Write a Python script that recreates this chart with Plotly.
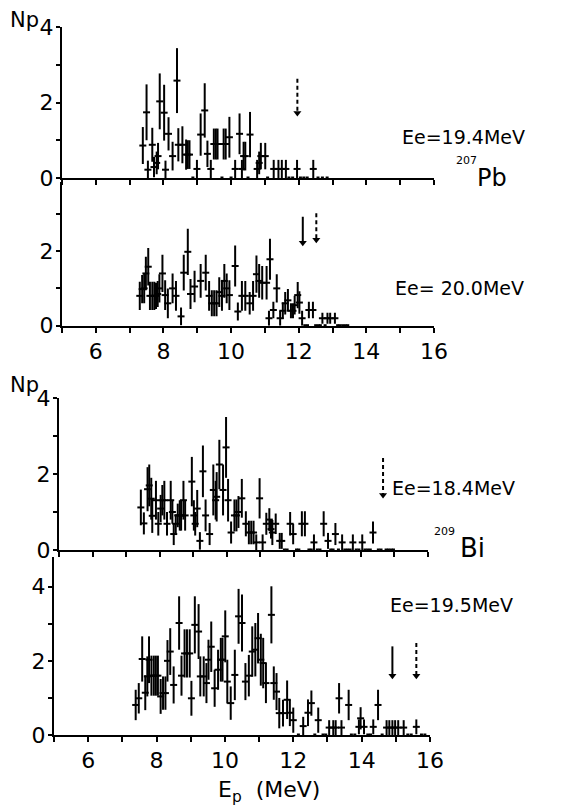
import plotly.graph_objects as go

# ---------------- data ----------------
# Panel 1: 207Pb, Ee = 19.4 MeV
pb194_x = [7.39, 7.50, 7.54, 7.67, 7.72, 7.80, 7.84, 7.89, 8.02, 8.06, 8.15, 8.27, 8.40, 8.44, 8.56,
           8.67, 8.72, 8.77, 8.99, 9.10, 9.22, 9.30, 9.40, 9.49, 9.55, 9.60, 9.78, 9.84, 9.95, 10.12,
           10.25, 10.32, 10.37, 10.42, 10.56, 10.77, 10.83, 10.88, 11.01, 11.26, 11.40, 11.50, 11.62,
           11.95, 12.43]
pb194_y = [0.86, 1.74, 0.22, 0.88, 0.29, 0.40, 0.58, 2.03, 1.73, 0.22, 1.17, 0.58, 2.58, 0.88, 0.88,
           0.62, 0.62, 0.62, 0.24, 1.15, 1.79, 0.64, 0.24, 0.90, 0.90, 0.90, 0.90, 0.90, 1.08, 0.24,
           1.17, 0.24, 0.58, 0.58, 1.15, 0.24, 0.40, 0.58, 0.58, 0.24, 0.24, 0.24, 0.24,
           0.24, 0.24]
pb194_err = [0.49, 0.74, 0.24, 0.45, 0.27, 0.30, 0.35, 0.74, 0.74, 0.24, 0.44, 0.38, 0.86, 0.44, 0.49,
             0.40, 0.38, 0.38, 0.24, 0.56, 0.72, 0.35, 0.24, 0.41, 0.41, 0.41, 0.41, 0.41, 0.54, 0.24,
             0.54, 0.24, 0.38, 0.38, 0.60, 0.24, 0.30, 0.35, 0.35, 0.24, 0.24, 0.24, 0.24,
             0.24, 0.24]
pb194_zero = [8.87, 9.73, 10.00, 10.50, 11.08, 11.71, 11.82, 12.05, 12.15, 12.25, 12.57, 12.70, 12.84]

# Panel 2: 207Pb, Ee = 20.0 MeV
pb200_x = [7.30, 7.37, 7.43, 7.48, 7.55, 7.60, 7.67, 7.73, 7.78, 7.83, 7.88, 7.97, 8.05, 8.13, 8.27,
           8.37, 8.52, 8.60, 8.72, 8.80, 8.92, 9.10, 9.25, 9.35, 9.43, 9.50, 9.57, 9.65, 9.73, 9.80,
           9.87, 9.95, 10.12, 10.20, 10.32, 10.42, 10.55, 10.65, 10.75, 10.83, 10.92, 11.05, 11.12,
           11.15, 11.25, 11.35, 11.45, 11.53, 11.60, 11.68, 11.77, 11.83, 11.88, 11.97, 12.02, 12.10,
           12.30, 12.42, 12.70, 12.85, 12.93, 13.07]
pb200_y = [0.80, 0.98, 1.00, 1.40, 1.58, 0.80, 0.80, 0.80, 0.80, 0.85, 1.00, 1.40, 0.82, 0.60, 1.00,
           0.80, 0.25, 1.42, 1.98, 0.85, 1.05, 1.20, 1.42, 0.80, 0.60, 0.60, 0.60, 0.90, 0.80, 1.20,
           1.00, 0.82, 1.60, 0.38, 0.80, 0.80, 0.60, 0.80, 1.38, 1.20, 1.15, 1.15, 0.20,
           1.78, 0.42, 1.00, 0.20, 0.40, 0.60, 0.68, 0.40, 0.40, 0.55, 0.82, 0.62, 0.20,
           0.42, 0.42, 0.20, 0.20, 0.20, 0.20]
pb200_err = [0.38, 0.38, 0.40, 0.45, 0.50, 0.38, 0.38, 0.38, 0.35, 0.35, 0.38, 0.50, 0.40, 0.40, 0.40,
             0.40, 0.24, 0.48, 0.62, 0.40, 0.42, 0.45, 0.48, 0.40, 0.35, 0.35, 0.35, 0.40, 0.40, 0.45,
             0.40, 0.40, 0.55, 0.24, 0.40, 0.40, 0.30, 0.40, 0.50, 0.45, 0.45, 0.45, 0.20,
             0.55, 0.22, 0.38, 0.20, 0.22, 0.30, 0.30, 0.20, 0.20, 0.25, 0.35, 0.30, 0.20,
             0.22, 0.22, 0.15, 0.15, 0.15, 0.15]
pb200_zero = [12.18, 12.26, 12.50, 12.58, 12.64, 12.78, 13.15, 13.22, 13.30, 13.38, 13.45]

# Panel 3: 209Bi, Ee = 18.4 MeV
bi184_x = [7.44, 7.53, 7.64, 7.69, 7.75, 7.78, 7.89, 7.96, 8.03, 8.08, 8.14, 8.22, 8.33, 8.38, 8.42,
           8.48, 8.54, 8.60, 8.64, 8.71, 8.76, 8.96, 9.02, 9.06, 9.12, 9.20, 9.29, 9.37, 9.49, 9.60,
           9.67, 9.70, 9.78, 9.89, 9.98, 10.04, 10.13, 10.23, 10.29, 10.35, 10.45, 10.57, 10.66,
           10.73, 10.80, 10.88, 10.98, 11.07, 11.18, 11.27, 11.32, 11.36, 11.46, 11.58, 11.64,
           11.89, 11.98, 12.24, 12.33, 12.60, 12.89, 13.02, 13.24, 13.44, 13.76, 14.04, 14.36]
bi184_y = [1.12, 0.70, 1.60, 1.70, 1.35, 0.90, 1.31, 0.69, 1.09, 1.31, 1.31, 0.69, 1.31, 1.00, 0.42,
           0.69, 0.91, 0.91, 0.91, 1.31, 0.91, 1.80, 0.91, 0.69, 1.09, 0.24, 2.07, 0.91, 0.42, 1.58,
           1.31, 1.40, 2.25, 1.58, 2.70, 1.31, 0.46, 0.91, 0.91, 1.00, 1.36, 0.69, 0.46,
           0.46, 0.46, 0.20, 1.36, 0.20, 0.69, 0.80, 0.55, 0.46, 0.69, 0.24, 0.24,
           0.69, 0.42, 0.69, 0.69, 0.20, 0.69, 0.24, 0.42, 0.20, 0.20, 0.20, 0.46]
bi184_err = [0.47, 0.29, 0.58, 0.55, 0.55, 0.45, 0.51, 0.31, 0.36, 0.40, 0.51, 0.31, 0.51, 0.31, 0.29,
             0.25, 0.31, 0.40, 0.40, 0.51, 0.40, 0.65, 0.40, 0.31, 0.49, 0.23, 0.68, 0.42, 0.29, 0.67,
             0.51, 0.65, 0.65, 0.67, 0.80, 0.56, 0.29, 0.42, 0.42, 0.42, 0.51, 0.33, 0.31,
             0.31, 0.31, 0.21, 0.53, 0.21, 0.29, 0.30, 0.25, 0.33, 0.27, 0.21, 0.21,
             0.31, 0.27, 0.33, 0.33, 0.21, 0.33, 0.21, 0.29, 0.21, 0.21, 0.21, 0.29]
bi184_zero = [11.72, 11.80, 12.08, 12.15, 12.45, 12.52, 12.70, 12.78, 13.10, 13.17, 13.33, 13.52,
              13.60, 13.68, 13.86, 13.94, 14.12, 14.20, 14.28, 14.52, 14.60, 14.75, 14.82, 14.90, 14.97]

# Panel 4: 209Bi, Ee = 19.5 MeV
bi195_x = [7.39, 7.48, 7.58, 7.67, 7.73, 7.78, 7.85, 7.92, 7.98, 8.04, 8.12, 8.19, 8.26, 8.32, 8.40,
           8.50, 8.66, 8.73, 8.82, 8.89, 8.97, 9.02, 9.12, 9.23, 9.28, 9.38, 9.46, 9.52, 9.60, 9.70,
           9.80, 9.88, 9.93, 10.01, 10.07, 10.17, 10.29, 10.40, 10.50, 10.60, 10.70, 10.80, 10.89,
           10.97, 11.05, 11.12, 11.20, 11.36, 11.43, 11.51, 11.59, 11.70, 11.82, 11.90, 12.00, 12.29,
           12.43, 12.53, 12.73, 13.05, 13.17, 13.24, 13.34, 13.41, 13.62, 13.92, 13.97, 14.07, 14.34,
           14.48, 14.73, 14.81, 14.90, 14.98, 15.07, 15.23, 15.60]
bi195_y = [0.81, 0.99, 2.05, 1.14, 1.58, 2.03, 1.60, 1.60, 1.60, 1.60, 1.04, 1.13, 1.13, 2.00, 2.25,
           1.35, 3.02, 1.60, 2.20, 2.20, 2.20, 0.99, 2.97, 2.79, 1.58, 1.58, 1.40, 2.03, 2.38, 1.26,
           1.76, 2.03, 2.03, 2.66, 1.44, 0.86, 1.62, 3.20, 3.02, 1.44, 1.60, 2.25, 2.30,
           2.61, 2.03, 1.94, 1.40, 3.24, 1.40, 1.17, 0.59, 0.59, 0.95, 0.60, 0.40, 0.24,
           0.60, 0.86, 0.40, 0.20, 0.20, 0.20, 0.99, 0.20, 0.81, 0.22, 0.45, 0.22, 0.22,
           0.81, 0.20, 0.20, 0.20, 0.20, 0.20, 0.20, 0.22]
bi195_err = [0.41, 0.41, 0.61, 0.47, 0.54, 0.63, 0.54, 0.54, 0.54, 0.54, 0.47, 0.45, 0.45, 0.56, 0.63,
             0.50, 0.72, 0.54, 0.65, 0.65, 0.65, 0.47, 0.77, 0.74, 0.54, 0.54, 0.54, 0.54, 0.68, 0.50,
             0.54, 0.59, 0.59, 0.70, 0.59, 0.45, 0.68, 0.74, 0.77, 0.50, 0.56, 0.68, 0.72,
             0.68, 0.70, 0.68, 0.54, 0.77, 0.45, 0.50, 0.41, 0.36, 0.52, 0.36, 0.34, 0.25,
             0.36, 0.34, 0.34, 0.20, 0.20, 0.20, 0.41, 0.20, 0.41, 0.20, 0.30, 0.20, 0.20,
             0.41, 0.20, 0.20, 0.20, 0.20, 0.20, 0.20, 0.20]
bi195_zero = [12.15, 12.63, 12.87, 12.95, 13.70, 13.80, 14.18, 14.26, 14.60, 15.35, 15.45, 15.75, 15.85]

# threshold arrows (panel, x, top, tip, style)
arrow_panel = [1, 2, 2, 3, 4, 4]
arrow_x = [11.96, 12.12, 12.52, 14.66, 14.90, 15.60]
arrow_top = [2.63, 2.92, 3.01, 2.42, 2.39, 2.48]
arrow_tip = [1.72, 2.22, 2.30, 1.45, 1.60, 1.60]
arrow_dash = ["dash", "solid", "dash", "dash", "solid", "dash"]

panel_labels = ["Ee=19.4MeV", "Ee= 20.0MeV", "Ee=18.4MeV", "Ee=19.5MeV"]

x_tick_vals = [5, 6, 7, 8, 9, 10, 11, 12, 13, 14, 15, 16]
x_tick_text = ["", "6", "", "8", "", "10", "", "12", "", "14", "", "16"]
y_tick_vals = [0, 1, 2, 3, 4]
y_tick_text = ["0", "", "2", "", "4"]

# ---------------- figure ----------------
OFF = 8                      # page body margin
W, H = 575 - OFF, 810 - OFF  # figure size so the page fits the window
FONT = "DejaVu Sans"


def px(x):
    return (x - OFF) / W


def py(y):
    return 1 - (y - OFF) / H


fig = go.Figure()

panels = [
    (pb194_x, pb194_y, pb194_err, pb194_zero),
    (pb200_x, pb200_y, pb200_err, pb200_zero),
    (bi184_x, bi184_y, bi184_err, bi184_zero),
    (bi195_x, bi195_y, bi195_err, bi195_zero),
]

for i, (xs, ys, es, zs) in enumerate(panels, start=1):
    xa = "x" if i == 1 else f"x{i}"
    ya = "y" if i == 1 else f"y{i}"
    fig.add_trace(go.Scatter(
        x=xs, y=ys, xaxis=xa, yaxis=ya, mode="markers",
        marker=dict(symbol="line-ew", size=5, color="black", line=dict(width=2, color="black")),
        error_y=dict(type="data", array=es, symmetric=True, color="black", thickness=2, width=0),
        showlegend=False, hoverinfo="skip", cliponaxis=False,
    ))
    fig.add_trace(go.Scatter(
        x=zs, y=[0] * len(zs), xaxis=xa, yaxis=ya, mode="markers",
        marker=dict(symbol="square", size=3, color="black"),
        showlegend=False, hoverinfo="skip", cliponaxis=False,
    ))

for p, ax_, top, tip, dash in zip(arrow_panel, arrow_x, arrow_top, arrow_tip, arrow_dash):
    xa = "x" if p == 1 else f"x{p}"
    ya = "y" if p == 1 else f"y{p}"
    fig.add_trace(go.Scatter(
        x=[ax_, ax_], y=[top, tip], xaxis=xa, yaxis=ya, mode="lines",
        line=dict(color="black", width=2, dash=dash if dash == "solid" else "4px,3px"),
        showlegend=False, hoverinfo="skip", cliponaxis=False,
    ))
    fig.add_trace(go.Scatter(
        x=[ax_], y=[tip], xaxis=xa, yaxis=ya, mode="markers",
        marker=dict(symbol="triangle-down", size=7, color="black"),
        showlegend=False, hoverinfo="skip", cliponaxis=False,
    ))

# axis geometry (page pixels): (x_left, x_right, y_zero, y_top, y_max)
geom = [
    (62, 434, 178, 27, 4.0),
    (62, 434, 325.7, 182, 3.85),
    (59, 428, 550, 398, 4.0),
    (54, 430, 735, 557, 4.8),
]

layout = dict(
    width=W, height=H,
    margin=dict(l=0, r=0, t=0, b=0, pad=0, autoexpand=False),
    paper_bgcolor="white", plot_bgcolor="white",
    font=dict(family=FONT, color="black"),
    showlegend=False,
)

for i, (xl, xr, yz, yt, ymax) in enumerate(geom, start=1):
    kx = "xaxis" if i == 1 else f"xaxis{i}"
    ky = "yaxis" if i == 1 else f"yaxis{i}"
    ya = "y" if i == 1 else f"y{i}"
    xa = "x" if i == 1 else f"x{i}"
    show_x_labels = i in (2, 4)
    layout[kx] = dict(
        domain=[px(xl), px(xr)], anchor=ya, range=[5, 16],
        showline=True, linecolor="black", linewidth=2,
        ticks="outside", ticklen=5, tickwidth=1.5, tickcolor="black",
        tickmode="array", tickvals=x_tick_vals, ticktext=x_tick_text,
        showticklabels=show_x_labels, automargin=False,
        tickfont=dict(family=FONT, size=22, color="black"),
        showgrid=False, zeroline=False, fixedrange=True,
    )
    yvals = [v for v in y_tick_vals if v <= ymax]
    ytext = [t for v, t in zip(y_tick_vals, y_tick_text) if v <= ymax]
    layout[ky] = dict(
        domain=[py(yz), py(yt)], anchor=xa, range=[0, ymax],
        showline=True, linecolor="black", linewidth=2,
        ticks="outside", ticklen=4, tickwidth=1.5, tickcolor="black",
        tickmode="array", tickvals=yvals, ticktext=ytext, automargin=False,
        ticklabelstandoff=-2,
        tickfont=dict(family=FONT, size=22, color="black"),
        showgrid=False, zeroline=False, fixedrange=True,
    )

fig.update_layout(**layout)

ann = []


def text(s, x, y, size, xanchor="center", yanchor="middle"):
    ann.append(dict(text=s, x=px(x), y=py(y), xref="paper", yref="paper",
                    xanchor=xanchor, yanchor=yanchor, showarrow=False,
                    font=dict(family=FONT, size=size, color="black")))


text("Np", 24, 20, 21)
text("Np", 24, 385, 21)
text(panel_labels[0], 400, 137, 19, xanchor="left")
text(panel_labels[1], 393, 288, 19, xanchor="left")
text(panel_labels[2], 390, 488, 19, xanchor="left")
text(panel_labels[3], 388, 605, 19, xanchor="left")
text("207", 466, 161, 11)
text("Pb", 492, 178, 24)
text("209", 444, 531, 11)
text("Bi", 472, 548, 26)
text("E<sub>p</sub>  (MeV)", 269, 791, 22)

fig.update_layout(annotations=ann)

fig.write_html("out.html")
